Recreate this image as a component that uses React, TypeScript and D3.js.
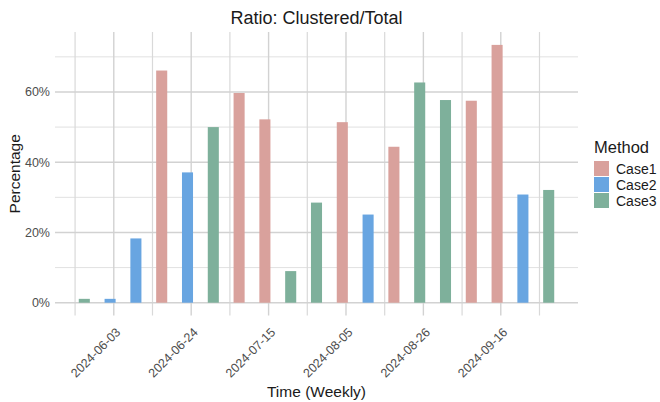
import React from "react";
import * as d3 from "d3";

const weeks = [
  "2024-05-26", "2024-06-02", "2024-06-09", "2024-06-16", "2024-06-23",
  "2024-06-30", "2024-07-07", "2024-07-14", "2024-07-21", "2024-07-28",
  "2024-08-04", "2024-08-11", "2024-08-18", "2024-08-25", "2024-09-01",
  "2024-09-08", "2024-09-15", "2024-09-22", "2024-09-29",
];
const methods = [
  "Case3", "Case2", "Case2", "Case1", "Case2", "Case3", "Case1", "Case1", "Case3", "Case3",
  "Case1", "Case2", "Case1", "Case3", "Case3", "Case1", "Case1", "Case2", "Case3",
];
const values = [
  1.1, 1.1, 18.3, 66.1, 37.1, 50.0, 59.7, 52.2, 9.0, 28.5,
  51.4, 25.1, 44.4, 62.7, 57.7, 57.5, 73.4, 30.8, 32.1,
];
const tickDates = ["2024-06-03", "2024-06-24", "2024-07-15", "2024-08-05", "2024-08-26", "2024-09-16"];
const yMajor = [0, 20, 40, 60];
const yMinor = [10, 30, 50, 70];
const legendKeys = ["Case1", "Case2", "Case3"];
const colors = ["#D9A19C", "#68A5E1", "#7EB09B"];

const W = 660, H = 402;
const left = 55, right = 578, top = 32, bottom = 315.6;
const DAY = 86400000;
const FONT = "'Liberation Sans', Arial, Helvetica, sans-serif";

export default function App() {
  const parse = d3.utcParse("%Y-%m-%d");
  const dates = weeks.map((w) => parse(w)!);
  const barHalf = 1.5 * DAY;
  const dMin = +d3.min(dates)! - barHalf;
  const dMax = +d3.max(dates)! + barHalf;
  const ex = (dMax - dMin) * 0.05;
  const x = d3.scaleUtc().domain([new Date(dMin - ex), new Date(dMax + ex)]).range([left, right]);
  const vMax = d3.max(values)!;
  const y = d3.scaleLinear().domain([-0.05 * vMax, vMax * 1.05]).range([bottom, top]);
  const color = d3.scaleOrdinal<string, string>().domain(legendKeys).range(colors);

  const ticks = tickDates.map((t) => parse(t)!);
  const minorX: Date[] = [];
  const step = +ticks[1] - +ticks[0];
  for (let t = +ticks[0] - step / 2; t <= +x.domain()[1]; t += step) {
    if (t >= +x.domain()[0]) minorX.push(new Date(t));
  }
  const barW = x(new Date(+dates[0] + 3 * DAY)) - x(dates[0]);

  return (
    <svg width={W} height={H} style={{ position: "absolute", left: 0, top: 0, background: "#fff" }} fontFamily={FONT}>
      <rect x={0} y={0} width={W} height={H} fill="#fff" />
      {/* minor grid */}
      {yMinor.map((v) => (
        <line key={"ym" + v} x1={left} x2={right} y1={y(v)} y2={y(v)} stroke="#dedede" strokeWidth={0.9} />
      ))}
      {minorX.map((d, i) => (
        <line key={"xm" + i} x1={x(d)} x2={x(d)} y1={top} y2={bottom} stroke="#d9d9d9" strokeWidth={1.2} />
      ))}
      {/* major grid */}
      {yMajor.map((v) => (
        <line key={"yM" + v} x1={left} x2={right} y1={y(v)} y2={y(v)} stroke="#d2d2d2" strokeWidth={1.6} />
      ))}
      {ticks.map((d, i) => (
        <line key={"xM" + i} x1={x(d)} x2={x(d)} y1={top} y2={bottom} stroke="#d2d2d2" strokeWidth={1.4} />
      ))}
      {/* bars */}
      {dates.map((d, i) => (
        <rect
          key={"b" + i}
          x={x(d) - barW / 2}
          width={barW}
          y={y(values[i])}
          height={y(0) - y(values[i])}
          fill={color(methods[i])}
        />
      ))}
      {/* y tick labels */}
      {yMajor.map((v) => (
        <text key={"yl" + v} x={50} y={y(v)} dy="0.35em" textAnchor="end" fontSize={12.5} fill="#4d4d4d">
          {v + "%"}
        </text>
      ))}
      {/* x tick labels */}
      {ticks.map((d, i) => (
        <text
          key={"xl" + i}
          transform={`translate(${x(d) + 7.5},${333}) rotate(-45)`}
          textAnchor="end"
          fontSize={12.5}
          fill="#4d4d4d"
        >
          {tickDates[i]}
        </text>
      ))}
      {/* titles */}
      <text x={(left + right) / 2} y={24} textAnchor="middle" fontSize={18} fill="#1a1a1a">
        Ratio: Clustered/Total
      </text>
      <text x={(left + right) / 2} y={397} textAnchor="middle" fontSize={15.5} fill="#1a1a1a">
        Time (Weekly)
      </text>
      <text transform={`translate(20,${(top + bottom) / 2}) rotate(-90)`} textAnchor="middle" fontSize={15.5} fill="#1a1a1a">
        Percentage
      </text>
      {/* legend */}
      <text x={594} y={153} fontSize={16.5} fill="#1a1a1a">Method</text>
      {legendKeys.map((k, i) => (
        <g key={"lg" + k}>
          <rect x={594} y={161 + i * 16} width={15} height={15} fill={colors[i]} />
          <text x={616} y={161 + i * 16 + 7.5} dy="0.36em" fontSize={14} fill="#1a1a1a">{k}</text>
        </g>
      ))}
    </svg>
  );
}
